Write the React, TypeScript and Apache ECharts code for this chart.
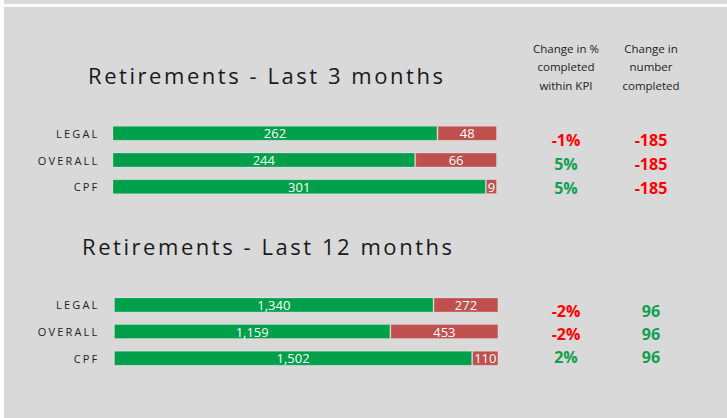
import React, { useEffect, useRef } from "react";
import * as echarts from "echarts";

const categories = ["LEGAL", "OVERALL", "CPF"];
const withinKpi3 = [262, 244, 301];
const outsideKpi3 = [48, 66, 9];
const withinKpi12 = [1340, 1159, 1502];
const outsideKpi12 = [272, 453, 110];
const pctChange3 = ["-1%", "5%", "5%"];
const numChange3 = ["-185", "-185", "-185"];
const pctChange12 = ["-2%", "-2%", "2%"];
const numChange12 = ["96", "96", "96"];
const titles = ["Retirements - Last 3 months", "Retirements - Last 12 months"];
const headerPct = ["Change in %", "completed", "within KPI"];
const headerNum = ["Change in", "number", "completed"];

const GREEN = "#00A04A";
const RED = "#C0504D";
const VAL_RED = "#FF0000";
const VAL_GREEN = "#11A04E";
const FONT = "'Open Sans', 'Noto Sans', sans-serif";

function totalOf(a: number[], b: number[]) {
  return Math.max(...a.map((v, i) => v + b[i]));
}

function valueAxis(gridIndex: number, position: "left" | "right", values: string[]) {
  return {
    type: "category",
    gridIndex,
    position,
    inverse: true,
    data: categories,
    axisLine: { show: false },
    axisTick: { show: false },
    splitLine: { show: false },
    axisLabel: {
      margin: 0,
      align: "center",
      formatter: (_v: string, i: number) => {
        const s = values[i];
        return s.startsWith("-") ? `{neg|${s}}` : `{pos|${s}}`;
      },
      rich: {
        neg: { color: VAL_RED, fontSize: 16, fontWeight: "bold", fontFamily: FONT },
        pos: { color: VAL_GREEN, fontSize: 16, fontWeight: "bold", fontFamily: FONT },
      },
    },
  };
}

function catAxis(gridIndex: number, margin: number) {
  return {
    type: "category",
    gridIndex,
    inverse: true,
    data: categories,
    axisLine: { show: false },
    axisTick: { show: false },
    splitLine: { show: false },
    axisLabel: { margin, color: "#222", fontSize: 11, fontFamily: FONT },
  };
}

function barSeries(name: string, data: number[], color: string, axisIndex: number, stack: string) {
  return {
    type: "bar",
    name,
    data,
    stack,
    xAxisIndex: axisIndex,
    yAxisIndex: axisIndex,
    barWidth: 15,
    itemStyle: { color, borderColor: "rgba(255,255,255,0.25)", borderWidth: 1 },
    label: {
      show: true,
      position: "inside",
      color: "#fff",
      fontSize: 13,
      fontFamily: FONT,
      formatter: (p: any) => Number(p.value).toLocaleString("en-US"),
    },
  };
}

export default function App() {
  const ref = useRef<HTMLDivElement>(null);
  useEffect(() => {
    document.body.style.margin = "0";
    const el = ref.current!;
    const chart = echarts.init(el, undefined, { renderer: "svg" });
    const applySpacing = () => {
      el.querySelectorAll("text").forEach((t) => {
        const s = t.textContent || "";
        if (titles.includes(s)) t.setAttribute("letter-spacing", "2.55");
        else if (categories.includes(s)) t.setAttribute("letter-spacing", "2.2");
      });
    };
    chart.on("finished", applySpacing);
    chart.setOption({
      animation: false,
      backgroundColor: "#D9D9D9",
      grid: [
        { left: 112.5, top: 120, width: 384.5, height: 80 },
        { left: 114, top: 291.6, width: 384.4, height: 80 },
        { left: 566, top: 128, width: 85, height: 72 },
        { left: 566, top: 299.5, width: 85, height: 69 },
      ],
      xAxis: [
        { type: "value", gridIndex: 0, min: 0, max: totalOf(withinKpi3, outsideKpi3), show: false },
        { type: "value", gridIndex: 1, min: 0, max: totalOf(withinKpi12, outsideKpi12), show: false },
        { type: "value", gridIndex: 2, show: false },
        { type: "value", gridIndex: 3, show: false },
      ],
      yAxis: [
        catAxis(0, 13),
        catAxis(1, 14.5),
        valueAxis(2, "left", pctChange3),
        valueAxis(2, "right", numChange3),
        valueAxis(3, "left", pctChange12),
        valueAxis(3, "right", numChange12),
      ],
      series: [
        barSeries("Within KPI (3m)", withinKpi3, GREEN, 0, "s3"),
        barSeries("Outside KPI (3m)", outsideKpi3, RED, 0, "s3"),
        barSeries("Within KPI (12m)", withinKpi12, GREEN, 1, "s12"),
        barSeries("Outside KPI (12m)", outsideKpi12, RED, 1, "s12"),
      ],
      graphic: [
        { type: "rect", shape: { x: 0, y: 0, width: 4, height: 418 }, style: { fill: "#fff" } },
        { type: "rect", shape: { x: 4, y: 4, width: 723, height: 3 }, style: { fill: "#fff" } },
        {
          type: "text",
          x: 88,
          y: 75,
          style: { text: titles[0], fill: "#1a1a1a", font: `22px ${FONT}`, textAlign: "left", textVerticalAlign: "middle" },
        },
        {
          type: "text",
          x: 82,
          y: 246,
          style: { text: titles[1], fill: "#1a1a1a", font: `22px ${FONT}`, textAlign: "left", textVerticalAlign: "middle" },
        },
        {
          type: "text",
          x: 566,
          y: 39,
          style: { text: headerPct.join("\n"), fill: "#222", font: `11.5px ${FONT}`, lineHeight: 18.5, textAlign: "center", textVerticalAlign: "top" },
        },
        {
          type: "text",
          x: 651,
          y: 39,
          style: { text: headerNum.join("\n"), fill: "#222", font: `11.5px ${FONT}`, lineHeight: 18.5, textAlign: "center", textVerticalAlign: "top" },
        },
      ],
    });
    applySpacing();
    return () => chart.dispose();
  }, []);
  return <div ref={ref} style={{ width: 727, height: 418 }} />;
}
